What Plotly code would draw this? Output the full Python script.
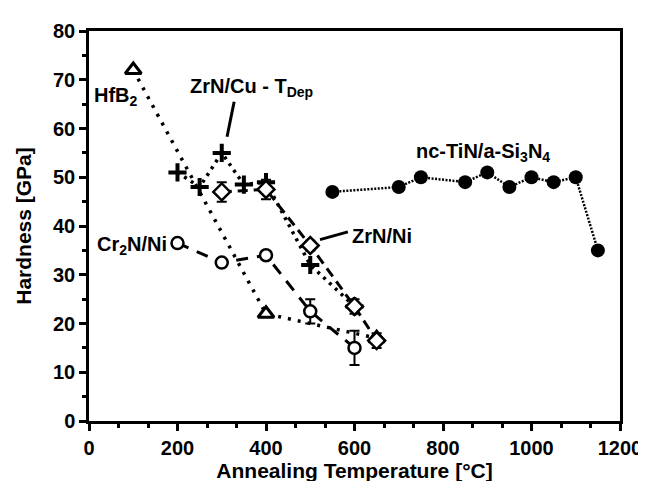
import plotly.graph_objects as go

# ---- data ----
tin_x = [550, 700, 750, 850, 900, 950, 1000, 1050, 1100, 1150]
tin_y = [47, 48, 50, 49, 51, 48, 50, 49, 50, 35]

hfb2_x = [100, 400, 650]
hfb2_y = [72, 22, 17]

zrncu_x = [200, 250, 300, 350, 400, 500, 600]
zrncu_y = [51, 48, 55, 48.5, 49, 32, 23.5]

zrnni_x = [300, 400, 500, 600, 650]
zrnni_y = [47, 47.5, 36, 23.5, 16.5]
zrnni_err = [2, 2, 1, 1.5, 1.5]

crn_x = [200, 300, 400, 500, 600]
crn_y = [36.5, 32.5, 34, 22.5, 15]
crn_err = [0, 0, 0, 2.5, 3.5]

x_major = [0, 200, 400, 600, 800, 1000, 1200]
x_minor = [i * 200 / 3 for i in range(19)]
y_major = [0, 10, 20, 30, 40, 50, 60, 70, 80]
y_minor = [i * 5 for i in range(17)]

FONT = "Liberation Sans"
fig = go.Figure()

fig.add_trace(go.Scatter(
    x=tin_x, y=tin_y, mode="lines+markers",
    line=dict(color="black", width=2.5, dash="2px,1.5px"),
    marker=dict(symbol="circle", size=14, color="black")))

fig.add_trace(go.Scatter(
    x=hfb2_x, y=hfb2_y, mode="lines+markers",
    line=dict(color="black", width=3.5, dash="3px,7px"),
    marker=dict(symbol="triangle-up", size=14, color="white",
                line=dict(width=3, color="black"))))

fig.add_trace(go.Scatter(
    x=zrncu_x, y=zrncu_y, mode="lines+markers",
    line=dict(color="black", width=3.5, dash="3px,5px"),
    marker=dict(symbol="cross-thin-open", size=13, color="black",
                line=dict(width=4, color="black"))))

fig.add_trace(go.Scatter(
    x=zrnni_x, y=zrnni_y, mode="lines+markers",
    line=dict(color="black", width=3, dash="10px,6px"),
    error_y=dict(type="data", array=zrnni_err, color="black", thickness=2, width=5),
    marker=dict(symbol="diamond", size=13, color="white",
                line=dict(width=2.5, color="black"))))

fig.add_trace(go.Scatter(
    x=crn_x, y=crn_y, mode="lines+markers",
    line=dict(color="black", width=3, dash="12px,9px"),
    error_y=dict(type="data", array=crn_err, color="black", thickness=2, width=5),
    marker=dict(symbol="circle", size=12, color="white",
                line=dict(width=2.5, color="black"))))

# leader lines
fig.add_shape(type="line", x0=328, y0=65.5, x1=312, y1=58.3,
              line=dict(color="black", width=3))
fig.add_shape(type="line", x0=522, y0=37.2, x1=585, y1=38.8,
              line=dict(color="black", width=3))

annf = dict(family=FONT, size=20, color="black")
anns = [
    dict(x=60, y=66.5, text="<b>HfB<sub>2</sub></b>"),
    dict(x=368, y=68.5, text="<b>ZrN/Cu - T<sub>Dep</sub></b>"),
    dict(x=662, y=38, text="<b>ZrN/Ni</b>"),
    dict(x=97, y=36, text="<b>Cr<sub>2</sub>N/Ni</b>"),
    dict(x=890, y=55, text="<b>nc-TiN/a-Si<sub>3</sub>N<sub>4</sub></b>"),
]
for a in anns:
    fig.add_annotation(x=a["x"], y=a["y"], text=a["text"], showarrow=False,
                       font=annf, xanchor="center", yanchor="middle")

axis_common = dict(
    showline=True, linecolor="black", linewidth=2.5, mirror=True,
    ticks="outside", ticklen=7, tickwidth=2.5, tickcolor="black",
    showgrid=False, zeroline=False,
    tickfont=dict(family=FONT, size=20, color="black"),
)

fig.update_xaxes(range=[0, 1200], tickvals=x_major,
                 ticktext=[f"<b>{v}</b>" for v in x_major],
                 minor=dict(tickvals=x_minor, ticks="outside", ticklen=4,
                            tickwidth=2.5, tickcolor="black"),
                 title=dict(text="<b>Annealing Temperature [°C]</b>",
                            font=dict(family=FONT, size=21, color="black"),
                            standoff=4),
                 **axis_common)
fig.update_yaxes(range=[0, 80], tickvals=y_major,
                 ticktext=[f"<b>{v}</b>" for v in y_major],
                 minor=dict(tickvals=y_minor, ticks="outside", ticklen=4,
                            tickwidth=2.5, tickcolor="black"),
                 title=dict(text="<b>Hardness [GPa]</b>",
                            font=dict(family=FONT, size=21, color="black"),
                            standoff=16),
                 **axis_common)

fig.update_layout(
    width=646, height=481,
    margin=dict(l=81, r=27, t=23, b=63),
    plot_bgcolor="white", paper_bgcolor="white",
    showlegend=False,
)

fig.write_html("out.html")
